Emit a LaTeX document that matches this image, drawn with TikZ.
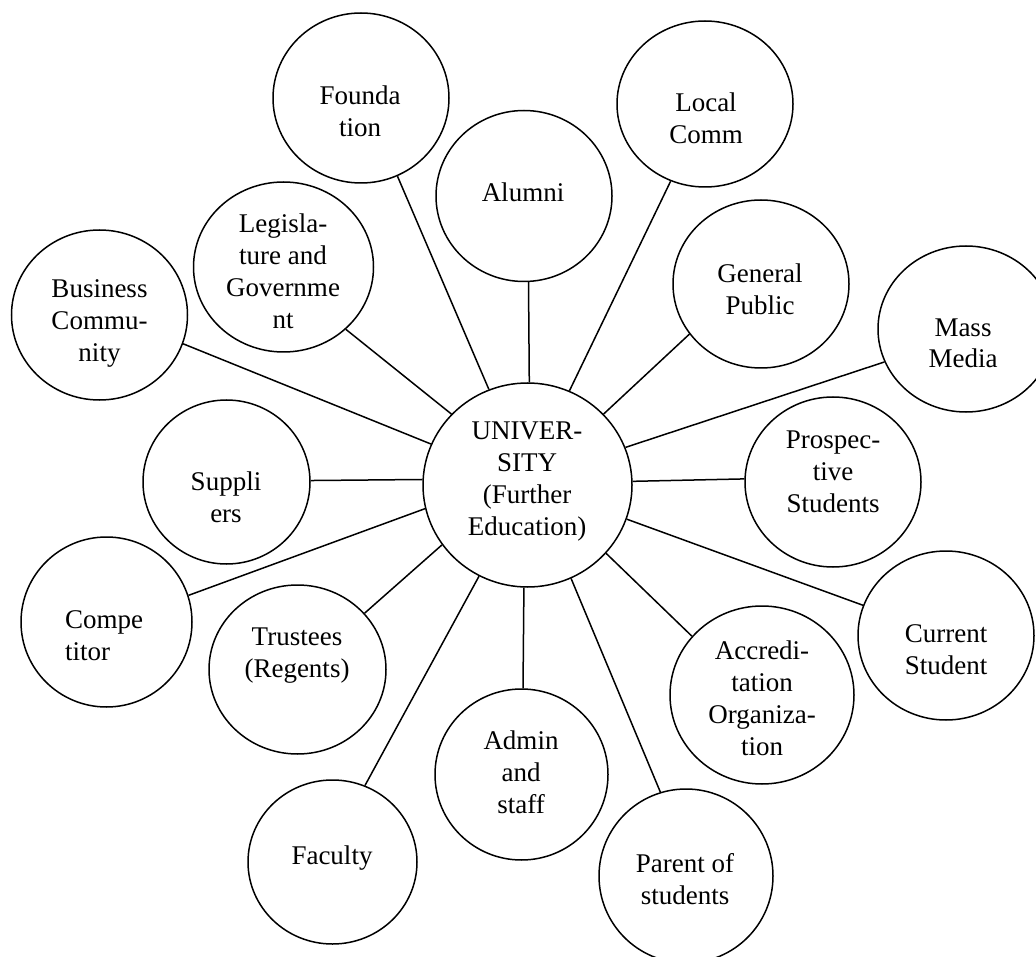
\documentclass[tikz,border=0pt]{standalone}
\usepackage{fontspec}
\setmainfont{Liberation Serif}
\usetikzlibrary{shapes.geometric}
\begin{document}
\begin{tikzpicture}[x=1pt,y=-1pt,
  bub/.style={draw, ellipse, line width=1.5pt, inner sep=0pt},
  lbl/.style={align=center, anchor=base, inner sep=0pt, font=\fontsize{27}{32}\selectfont},
  link/.style={line width=1.5pt}]
\clip (0,0) rectangle (1036,957);
% bubbles
\node[bub, minimum width=209, minimum height=204] (uni) at (527.5,485) {};
\node[bub, minimum width=176, minimum height=170] (found) at (361,98) {};
\node[bub, minimum width=176, minimum height=171] (alumni) at (524,196) {};
\node[bub, minimum width=176, minimum height=166] (local) at (705,104) {};
\node[bub, minimum width=180, minimum height=170] (legis) at (283.5,267) {};
\node[bub, minimum width=176, minimum height=168] (genpub) at (761,284) {};
\node[bub, minimum width=176, minimum height=170] (biz) at (99.5,315) {};
\node[bub, minimum width=176, minimum height=166] (mass) at (966,329) {};
\node[bub, minimum width=167, minimum height=164] (supp) at (226.5,482) {};
\node[bub, minimum width=176, minimum height=170] (prosp) at (833,482) {};
\node[bub, minimum width=171, minimum height=170] (comp) at (106.5,622) {};
\node[bub, minimum width=177, minimum height=169] (trust) at (297.5,669.5) {};
\node[bub, minimum width=176, minimum height=169] (curr) at (946,635.5) {};
\node[bub, minimum width=184, minimum height=178] (accr) at (762,695) {};
\node[bub, minimum width=173, minimum height=171] (admin) at (521.5,774.5) {};
\node[bub, minimum width=169, minimum height=164] (faculty) at (332.5,862) {};
\node[bub, minimum width=174, minimum height=174] (parent) at (686,876) {};
% texts (anchored at the baseline of the last line)
\node[lbl] (uni-t) at (527,535) {UNIVER-\\SITY\\(Further\\Education)};
\node[lbl] (found-t) at (360,137) {Founda\\tion};
\node[lbl] (alumni-t) at (523,202) {Alumni};
\node[lbl] (local-t) at (706,144) {Local\\Comm};
\node[lbl] (legis-t) at (283,329) {Legisla-\\ture and\\Governme\\nt};
\node[lbl] (genpub-t) at (760,315) {General\\Public};
\node[lbl] (biz-t) at (99.5,362) {Business\\Commu-\\nity};
\node[lbl] (mass-t) at (963,368) {Mass\\Media};
\node[lbl] (supp-t) at (226,522) {Suppli\\ers};
\node[lbl] (prosp-t) at (833,512) {Prospec-\\tive\\Students};
\node[lbl, align=left, anchor=base west] (comp-t) at (65,660) {Compe\\titor};
\node[lbl] (trust-t) at (297,677) {Trustees\\(Regents)};
\node[lbl] (curr-t) at (946,674) {Current\\Student};
\node[lbl] (accr-t) at (762,755) {Accredi-\\tation\\Organiza-\\tion};
\node[lbl] (admin-t) at (521,813) {Admin\\and\\staff};
\node[lbl] (faculty-t) at (332,864) {Faculty};
\node[lbl] (parent-t) at (685,904) {Parent of\\students};
% connectors
\draw[link] (uni.112.8) -- (found.-65.2);
\draw[link] (uni.89.4) -- (alumni.-87.3);
\draw[link] (uni.66.7) -- (local.246.3);
\draw[link] (uni.137.0) -- (legis.-45.2);
\draw[link] (uni.43.8) -- (genpub.215.7);
\draw[link] (uni.157.1) -- (biz.-19.5);
\draw[link] (uni.21.7) -- (mass.202.5);
\draw[link] (uni.177.2) -- (supp.1.4);
\draw[link] (uni.2.8) -- (prosp.178.7);
\draw[link] (uni.193.8) -- (comp.18.1);
\draw[link] (uni.-145.9) -- (trust.40.4);
\draw[link] (uni.-19.9) -- (curr.160.3);
\draw[link] (uni.-41.1) -- (accr.140.8);
\draw[link] (uni.-92.3) -- (admin.89);
\draw[link] (uni.-118.6) -- (faculty.67.1);
\draw[link] (uni.-65.2) -- (parent.107.2);
\end{tikzpicture}
\end{document}
